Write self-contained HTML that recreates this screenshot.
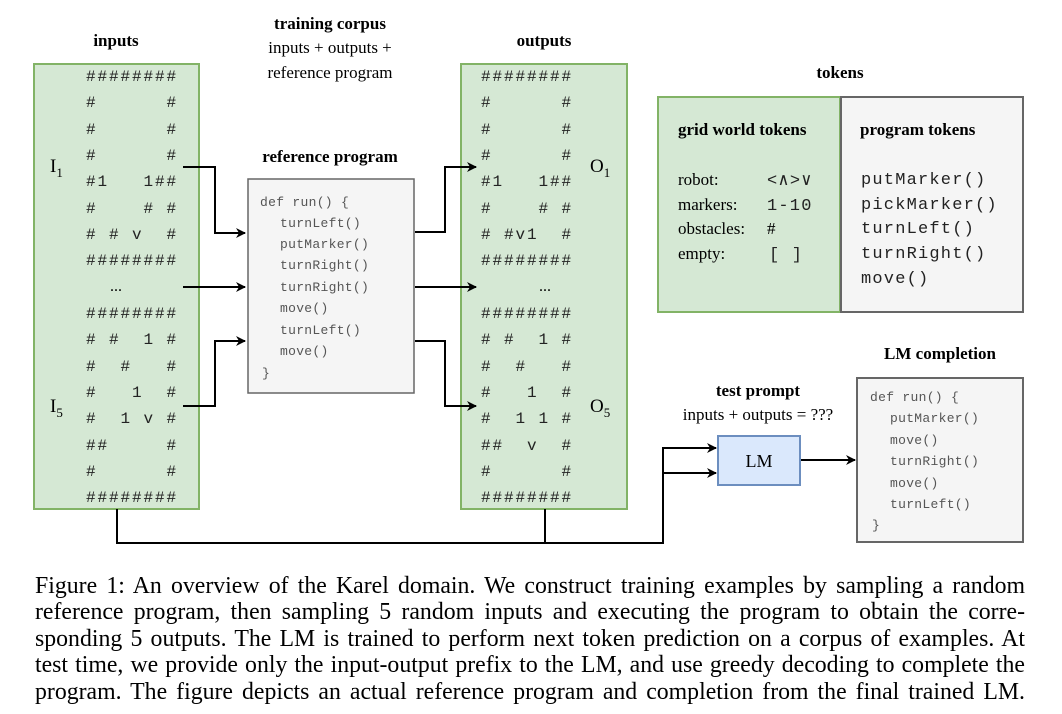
<!DOCTYPE html>
<html><head><meta charset="utf-8"><style>
html,body{margin:0;padding:0;background:#fff;width:1062px;height:714px;overflow:hidden;position:relative}
svg{display:block;position:absolute;left:0;top:0}
text{white-space:pre}
.s{font-family:"Liberation Serif",serif;fill:#000}
.b{font-weight:bold}
.m{font-family:"Liberation Mono",monospace;font-size:16px;letter-spacing:1.9px;fill:#222}
.c{font-family:"Liberation Mono",monospace;font-size:13px;fill:#555;letter-spacing:0.3px}
.t{font-family:"Liberation Mono",monospace;font-size:17px;fill:#222;letter-spacing:1.2px}
#cap{position:absolute;left:35px;top:573px;width:990px;font-family:"Liberation Serif",serif;font-size:23.8px;line-height:26.4px;color:#000}
#cap div{text-align:justify;text-align-last:justify;white-space:nowrap;overflow:visible}
</style></head><body>
<svg width="1062" height="714" viewBox="0 0 1062 714" xmlns="http://www.w3.org/2000/svg">
<defs><marker id="a" markerWidth="10" markerHeight="10" refX="9" refY="5" orient="auto" markerUnits="userSpaceOnUse"><path d="M0,0 L10,5 L0,10 L3,5 z" fill="#000"/></marker></defs>

<text class="s b" x="116" y="46" font-size="17" text-anchor="middle">inputs</text>
<text class="s b" x="330" y="29" font-size="17" text-anchor="middle">training corpus</text>
<text class="s" x="330" y="53" font-size="17" text-anchor="middle">inputs + outputs +</text>
<text class="s" x="330" y="78" font-size="17" text-anchor="middle">reference program</text>
<text class="s b" x="544" y="46" font-size="17" text-anchor="middle">outputs</text>
<text class="s b" x="840" y="78" font-size="17" text-anchor="middle">tokens</text>
<text class="s b" x="330" y="162" font-size="17" text-anchor="middle">reference program</text>

<rect x="34" y="64" width="165" height="445" fill="#d5e8d4" stroke="#82b366" stroke-width="2"/>
<rect x="461" y="64" width="166" height="445" fill="#d5e8d4" stroke="#82b366" stroke-width="2"/>

<g class="m">
<text x="86" y="81">########</text>
<text x="86" y="107">#      #</text>
<text x="86" y="134">#      #</text>
<text x="86" y="160">#      #</text>
<text x="86" y="186">#1   1##</text>
<text x="86" y="213">#    # #</text>
<text x="86" y="239"># # v  #</text>
<text x="86" y="265">########</text>
<text x="86" y="318">########</text>
<text x="86" y="344"># #  1 #</text>
<text x="86" y="371">#  #   #</text>
<text x="86" y="397">#   1  #</text>
<text x="86" y="423">#  1 v #</text>
<text x="86" y="450">##     #</text>
<text x="86" y="476">#      #</text>
<text x="86" y="502">########</text>

<text x="481" y="81">########</text>
<text x="481" y="107">#      #</text>
<text x="481" y="134">#      #</text>
<text x="481" y="160">#      #</text>
<text x="481" y="186">#1   1##</text>
<text x="481" y="213">#    # #</text>
<text x="481" y="239"># #v1  #</text>
<text x="481" y="265">########</text>
<text x="481" y="318">########</text>
<text x="481" y="344"># #  1 #</text>
<text x="481" y="371">#  #   #</text>
<text x="481" y="397">#   1  #</text>
<text x="481" y="423">#  1 1 #</text>
<text x="481" y="450">##  v  #</text>
<text x="481" y="476">#      #</text>
<text x="481" y="502">########</text>
</g>
<text class="s" x="116" y="291" font-size="16" text-anchor="middle">...</text>
<text class="s" x="545" y="291" font-size="16" text-anchor="middle">...</text>

<text class="s" x="50" y="172" font-size="19">I<tspan font-size="13" dy="5">1</tspan></text>
<text class="s" x="50" y="412" font-size="19">I<tspan font-size="13" dy="5">5</tspan></text>
<text class="s" x="590" y="172" font-size="19">O<tspan font-size="13" dy="5">1</tspan></text>
<text class="s" x="590" y="412" font-size="19">O<tspan font-size="13" dy="5">5</tspan></text>

<rect x="248" y="179" width="166" height="214" fill="#f5f5f5" stroke="#666" stroke-width="1.5"/>
<g class="c">
<text x="260" y="206">def run() {</text>
<text x="280" y="227">turnLeft()</text>
<text x="280" y="248">putMarker()</text>
<text x="280" y="269">turnRight()</text>
<text x="280" y="291">turnRight()</text>
<text x="280" y="312">move()</text>
<text x="280" y="334">turnLeft()</text>
<text x="280" y="355">move()</text>
<text x="262" y="377">}</text>
</g>

<g fill="none" stroke="#000" stroke-width="2">
<path d="M183,167 H215 V233 H245" marker-end="url(#a)"/>
<path d="M183,287 H245" marker-end="url(#a)"/>
<path d="M183,406 H215 V341 H245" marker-end="url(#a)"/>
<path d="M415,232 H445 V167 H476" marker-end="url(#a)"/>
<path d="M415,287 H476" marker-end="url(#a)"/>
<path d="M415,341 H445 V406 H476" marker-end="url(#a)"/>
<path d="M117,509 V543 H663 V448 H716" marker-end="url(#a)"/>
<path d="M663,473 H716" marker-end="url(#a)"/>
<path d="M545,509 V543"/>
<path d="M800,460 H855" marker-end="url(#a)"/>
</g>

<rect x="658" y="97" width="182" height="215" fill="#d5e8d4" stroke="#82b366" stroke-width="2"/>
<rect x="841" y="97" width="182" height="215" fill="#f5f5f5" stroke="#666" stroke-width="2"/>
<text class="s b" x="678" y="135" font-size="17">grid world tokens</text>
<text class="s b" x="860" y="135" font-size="17">program tokens</text>
<text class="s" x="678" y="185" font-size="17">robot:</text>
<text class="s" x="678" y="210" font-size="17">markers:</text>
<text class="s" x="678" y="234" font-size="17">obstacles:</text>
<text class="s" x="678" y="259" font-size="17">empty:</text>
<g class="t">
<text x="767" y="185">&lt;∧&gt;∨</text>
<text x="767" y="210">1-10</text>
<text class="s" x="767" y="234" font-size="17">#</text>
<text x="769" y="259">[ ]</text>
<text x="861" y="184">putMarker()</text>
<text x="861" y="209">pickMarker()</text>
<text x="861" y="233">turnLeft()</text>
<text x="861" y="258">turnRight()</text>
<text x="861" y="283">move()</text>
</g>

<text class="s b" x="940" y="359" font-size="17" text-anchor="middle">LM completion</text>
<text class="s b" x="758" y="396" font-size="17" text-anchor="middle">test prompt</text>
<text class="s" x="758" y="420" font-size="17" text-anchor="middle">inputs + outputs = ???</text>

<rect x="718" y="436" width="82" height="49" fill="#dae8fc" stroke="#6c8ebf" stroke-width="2"/>
<text class="s" x="759" y="467" font-size="18" text-anchor="middle">LM</text>

<rect x="857" y="378" width="166" height="164" fill="#f5f5f5" stroke="#666" stroke-width="2"/>
<g class="c">
<text x="870" y="401">def run() {</text>
<text x="890" y="422">putMarker()</text>
<text x="890" y="444">move()</text>
<text x="890" y="465">turnRight()</text>
<text x="890" y="487">move()</text>
<text x="890" y="508">turnLeft()</text>
<text x="872" y="529">}</text>
</g>
</svg>
<div id="cap">
<div>Figure 1: An overview of the Karel domain. We construct training examples by sampling a random</div>
<div>reference program, then sampling 5 random inputs and executing the program to obtain the corre-</div>
<div>sponding 5 outputs. The LM is trained to perform next token prediction on a corpus of examples. At</div>
<div>test time, we provide only the input-output prefix to the LM, and use greedy decoding to complete the</div>
<div>program. The figure depicts an actual reference program and completion from the final trained LM.</div>
</div>
</body></html>
